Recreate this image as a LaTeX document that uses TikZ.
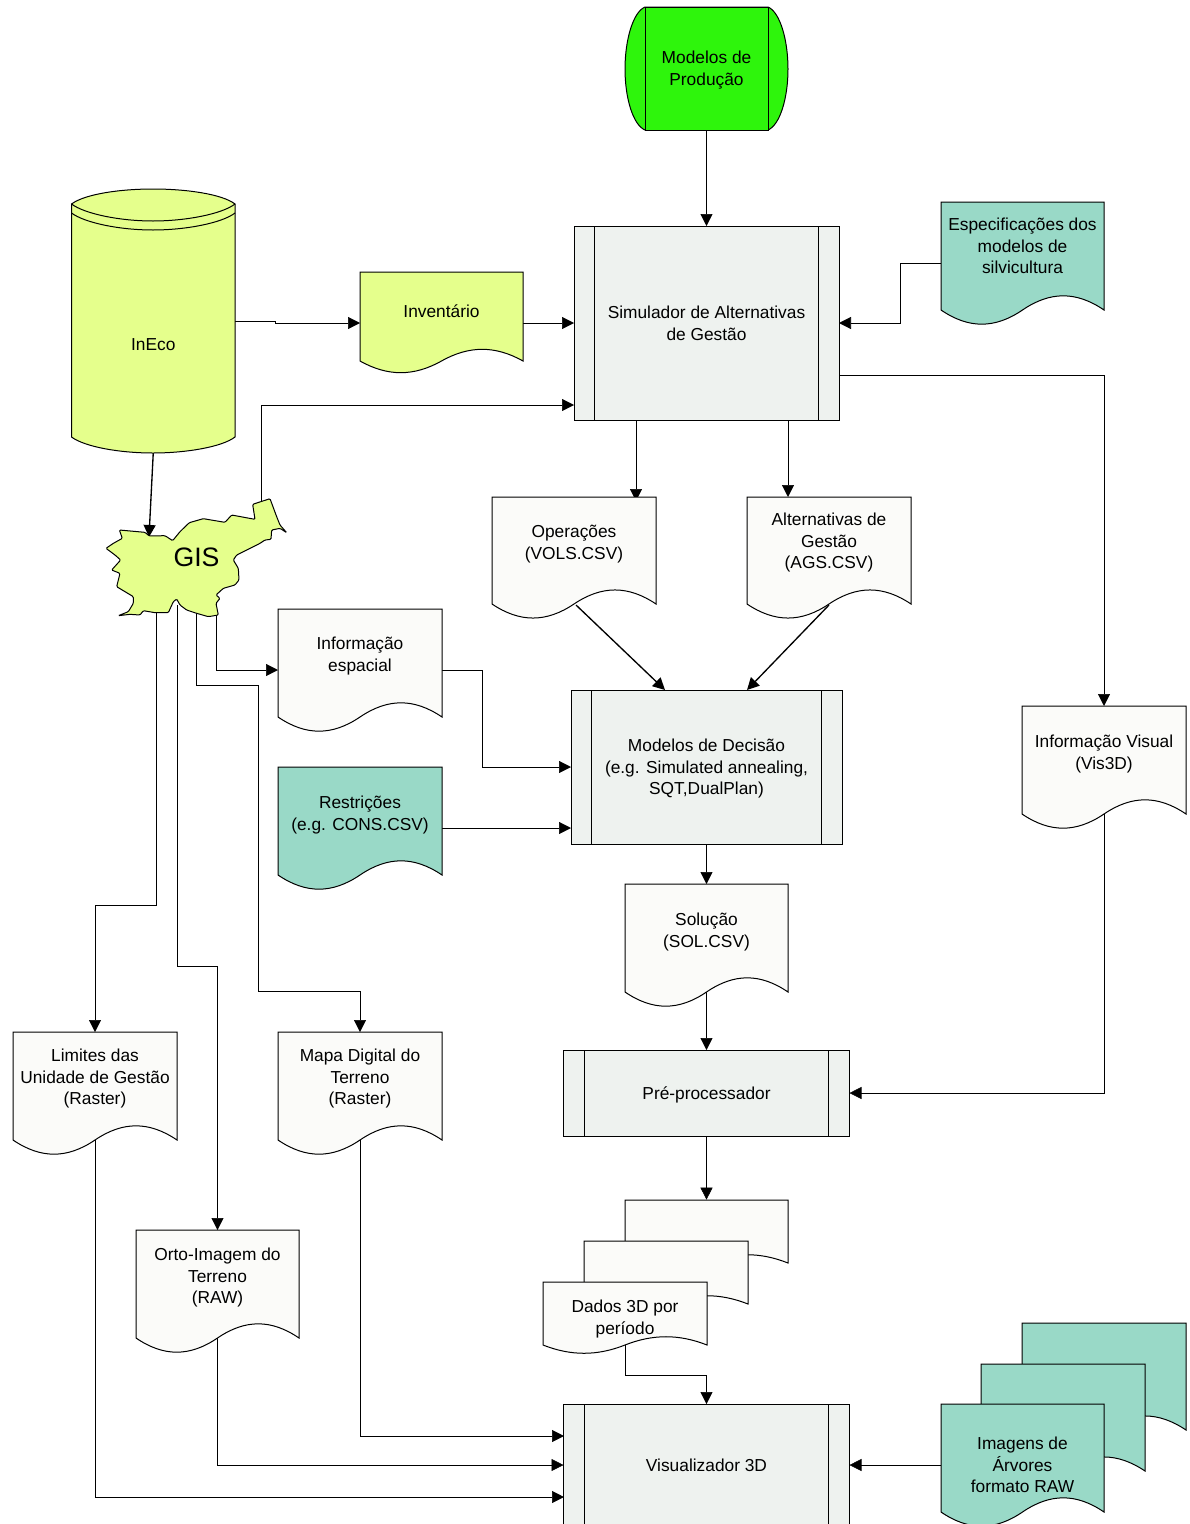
\documentclass[tikz,border=0pt]{standalone}
\usepackage{fontspec}
\setmainfont{Liberation Sans}
\usetikzlibrary{arrows.meta,backgrounds}
\definecolor{docfill}{HTML}{FBFBF9}
\definecolor{procfill}{HTML}{EEF2EF}
\definecolor{tealfill}{HTML}{99D9C7}
\definecolor{limefill}{HTML}{E5FF8C}
\definecolor{greenfill}{HTML}{2EF50C}
\tikzset{
  >={Triangle[length=9pt,width=9pt]},
  lbl/.style={align=center,inner sep=0pt,text depth=0pt,font=\fontsize{13}{16.2}\selectfont},
  outline/.style={draw=black,line width=.75pt},
  docbox/.style={inner sep=0pt,outer sep=0pt},
  procbox/.style={outline,lbl,fill=procfill,outer sep=0pt,
    path picture={
      \draw[outline] ([xshift=15.4pt]path picture bounding box.north west) -- ([xshift=15.4pt]path picture bounding box.south west);
      \draw[outline] ([xshift=-15.4pt]path picture bounding box.north east) -- ([xshift=-15.4pt]path picture bounding box.south east);
    }},
}
% sheet with a wavy foot: x0, x1, top, foot, fill
\newcommand{\docpath}[5]{%
  \pgfmathsetmacro\dw{#2-#1}\pgfmathsetmacro\da{.175*(#4-#3)}%
  \draw[outline,fill=#5] (#1,#3) -- (#2,#3) -- (#2,#4)
    .. controls ({#2-.17*\dw},{#4-\da}) and ({#2-.33*\dw},{#4-\da}) .. ({#1+.5*\dw},#4)
    .. controls ({#1+.33*\dw},{#4+\da}) and ({#1+.17*\dw},{#4+\da}) .. (#1,#4) -- cycle;}
% name, x0, x1, top, foot, fill, y of text, text
\newcommand{\docshape}[8]{%
  \docpath{#2}{#3}{#4}{#5}{#6}%
  \pgfmathsetmacro\bw{(#3-#2)*.75}\pgfmathsetmacro\bh{(#5-#4)*1.13*.75}%
  \node[docbox,minimum width=\bw pt,minimum height=\bh pt] (#1) at ({(#2+#3)/2},{#4+(#5-#4)*.565}) {};
  \node[lbl] (#1text) at ({(#2+#3)/2},#7) {#8};}
\begin{document}
\begin{tikzpicture}[x=.75pt,y=-.75pt,line width=.75pt]
  \useasboundingbox (0,0) rectangle (1189,1524);

  % top and left sources
  \path[outline,fill=greenfill] (645,7) -- (768,7) .. controls (780,12) and (788,40) .. (788,69)
    .. controls (788,98) and (780,125) .. (768,130) -- (645,130)
    .. controls (633,125) and (625,98) .. (625,69) .. controls (625,40) and (633,12) .. (645,7) -- cycle;
  \node[outline,lbl,fill=greenfill,minimum width=92.25pt,minimum height=92.25pt,outer sep=0pt] (modelos) at (706.5,68.5) {Modelos de\\Produção};

  \path[outline,fill=limefill] (71.5,204) -- (71.5,437) .. controls (85,447) and (120,453) .. (153,453)
    .. controls (186,453) and (222,447) .. (235,437) -- (235,204)
    .. controls (222,194) and (186,189) .. (153,189) .. controls (120,189) and (85,194) .. (71.5,204) -- cycle;
  \draw[outline] (71.5,204) .. controls (85,214) and (120,221) .. (153,221) .. controls (186,221) and (222,214) .. (235,204);
  \draw[outline] (71.5,213) .. controls (85,223) and (120,230) .. (153,230) .. controls (186,230) and (222,223) .. (235,213);
  \node[docbox,minimum width=122.6pt,minimum height=198pt] (ineco) at (153.25,321) {};
  \node[lbl] (inecotext) at (153.25,345) {InEco};

  \begin{scope}[shift={(90,480)},x=.25pt,y=-.25pt]
    \draw[outline,fill=limefill,rounded corners=.8pt] (88,150) -- (165,157) -- (178,168) -- (225,167) -- (248,182) -- (270,155)
      -- (298,128) -- (340,116) -- (405,127) -- (425,105) -- (495,118) -- (488,73) -- (540,56) -- (560,110) -- (570,135)
      -- (590,158) -- (570,145) -- (545,150) -- (543,178) -- (525,180) -- (510,190) -- (480,205) -- (440,225) -- (430,240)
      -- (445,265) -- (447,300) -- (435,315) -- (400,325) -- (378,345) -- (390,355) -- (378,370) -- (385,405) -- (355,410)
      -- (320,400) -- (290,390) -- (270,375) -- (260,357) -- (250,365) -- (235,398) -- (195,398) -- (160,392) -- (150,405)
      -- (120,403) -- (85,407) -- (115,395) -- (130,370) -- (130,350) -- (105,335) -- (80,320) -- (90,280) -- (65,270)
      -- (92,240) -- (75,225) -- (48,205) -- (70,190) -- (97,175) -- cycle;
  \end{scope}
  \node[docbox,minimum width=135.75pt,minimum height=90pt,font=\fontsize{20}{24}\selectfont] (gis) at (196.5,557) {GIS};

  % processes
  \node[procbox,minimum width=198.75pt,minimum height=145.5pt] (sim) at (706.5,323) {Simulador de Alternativas\\de Gestão};
  \node[procbox,minimum width=203.25pt,minimum height=115.5pt] (decisao) at (706.5,767) {Modelos de Decisão\\(e.g. Simulated annealing,\\SQT,DualPlan)};
  \node[procbox,minimum width=214.5pt,minimum height=64.5pt] (pre) at (706.5,1093) {Pré-processador};
  \node[procbox,minimum width=214.5pt,minimum height=91.5pt] (vis) at (706.5,1465) {Visualizador 3D};

  % documents
  \docshape{inventario}{360}{523}{272}{361}{limefill}{311}{Inventário}
  \docshape{espec}{941}{1104}{202}{310}{tealfill}{246}{Especificações dos\\modelos de\\silvicultura}
  \docshape{operacoes}{492}{656}{497}{604}{docfill}{542}{Operações\\(VOLS.CSV)}
  \docshape{alternativas}{747}{911}{497}{604}{docfill}{541}{Alternativas de\\Gestão\\(AGS.CSV)}
  \docshape{espacial}{278}{442}{609}{717}{docfill}{654}{Informação\\espacial}
  \docshape{restricoes}{278}{442}{767}{875}{tealfill}{813}{Restrições\\(e.g. CONS.CSV)}
  \docshape{visual}{1022}{1186}{706}{814}{docfill}{752}{Informação Visual\\(Vis3D)}
  \docshape{solucao}{625}{788}{884}{992}{docfill}{930}{Solução\\(SOL.CSV)}
  \docshape{limites}{13}{177}{1032}{1140}{docfill}{1077}{Limites das\\Unidade de Gestão\\(Raster)}
  \docshape{mapa}{278}{442}{1032}{1140}{docfill}{1077}{Mapa Digital do\\Terreno\\(Raster)}
  \docshape{orto}{136}{299}{1230}{1338}{docfill}{1276}{Orto-Imagem do\\Terreno\\(RAW)}

  % stacked documents, back sheets first
  \docpath{625}{788}{1200}{1263}{docfill}
  \node[docbox,minimum width=122.25pt,minimum height=53pt] (dadosback) at (706.5,1235) {};
  \docpath{584}{748}{1241}{1304}{docfill}
  \docshape{dados}{543}{707}{1282}{1345}{docfill}{1317}{Dados 3D por\\período}
  \docpath{1022}{1186}{1323}{1430}{tealfill}
  \docpath{981}{1145}{1364}{1471}{tealfill}
  \docshape{imagens}{941}{1104}{1404}{1512}{tealfill}{1465}{Imagens de\\Árvores\\formato RAW}

  % free ends on the edges of shapes
  \coordinate (inecoOut) at (235,321);
  \coordinate (gisUp) at (261,505);
  \coordinate (gisA) at (156,612);
  \coordinate (gisB) at (177,605);
  \coordinate (gisC) at (196,612);
  \coordinate (gisD) at (216,612);
  \coordinate (gisIn) at (149,537);
  \coordinate (simIn) at (574,405);
  \coordinate (simOut) at (839,375);
  \coordinate (simOp) at (636,420);
  \coordinate (simAlt) at (788,420);
  \coordinate (opIn) at (636,501);
  \coordinate (altIn) at (788,497);
  \coordinate (opOut) at (576,605);
  \coordinate (altOut) at (829,605);
  \coordinate (decA) at (665,690);
  \coordinate (decB) at (747,690);
  \coordinate (decC) at (571,828);
  \coordinate (visA) at (564,1436);
  \coordinate (visB) at (564,1497);

  \begin{scope}[on background layer]
    \draw[->] (modelos.south) -- (sim.north);
    \draw[->] (inecoOut) -- (275,321) -- (275,323) -- (inventario.west |- sim.west);
    \draw[->] (inventario.east |- sim.west) -- (sim.west);
    \draw[->] (espec.west |- 0,263) -- (900,263) -- (900,323) -- (sim.east);
    \draw[->] (simOp) -- (opIn);
    \draw[->] (simAlt) -- (altIn);
    \draw[->] (simOut) -- (1104,375) -- (visual.north);
    \draw[->] (visual.center) -- (1104,1093) -- (pre.east);
    \draw[->,line width=1pt] (ineco.south) -- (gisIn);
    \draw[->] (gisUp) -- (261,405) -- (simIn);
    \draw[->] (gisD) -- (216,670) -- (espacial.west |- 0,670);
    \draw[->] (gisC) -- (196,685) -- (258,685) -- (258,991) -- (360,991) -- (mapa.north);
    \draw[->] (gisB) -- (177,966) -- (217.5,966) -- (orto.north);
    \draw[->] (gisA) -- (156,905) -- (95,905) -- (limites.north);
    \draw[->,line width=1pt] (opOut) -- (decA);
    \draw[->,line width=1pt] (altOut) -- (decB);
    \draw[->] (espacial.east |- 0,670) -- (482,670) -- (482,767) -- (decisao.west);
    \draw[->] (restricoes.east |- decC) -- (decC);
    \draw[->] (decisao.south) -- (solucao.north);
    \draw[->] (solucao.center) -- (pre.north);
    \draw[->] (pre.south) -- (dadosback.north);
    \draw[->] (dados.center) -- (625,1375) -- (706.5,1375) -- (vis.north);
    \draw[->] (imagens.west |- vis.east) -- (vis.east);
    \draw[->] (limites.center) -- (95,1497) -- (visB);
    \draw[->] (mapa.center) -- (360,1436) -- (visA);
    \draw[->] (orto.center) -- (217.5,1465) -- (vis.west);
  \end{scope}
\end{tikzpicture}
\end{document}
